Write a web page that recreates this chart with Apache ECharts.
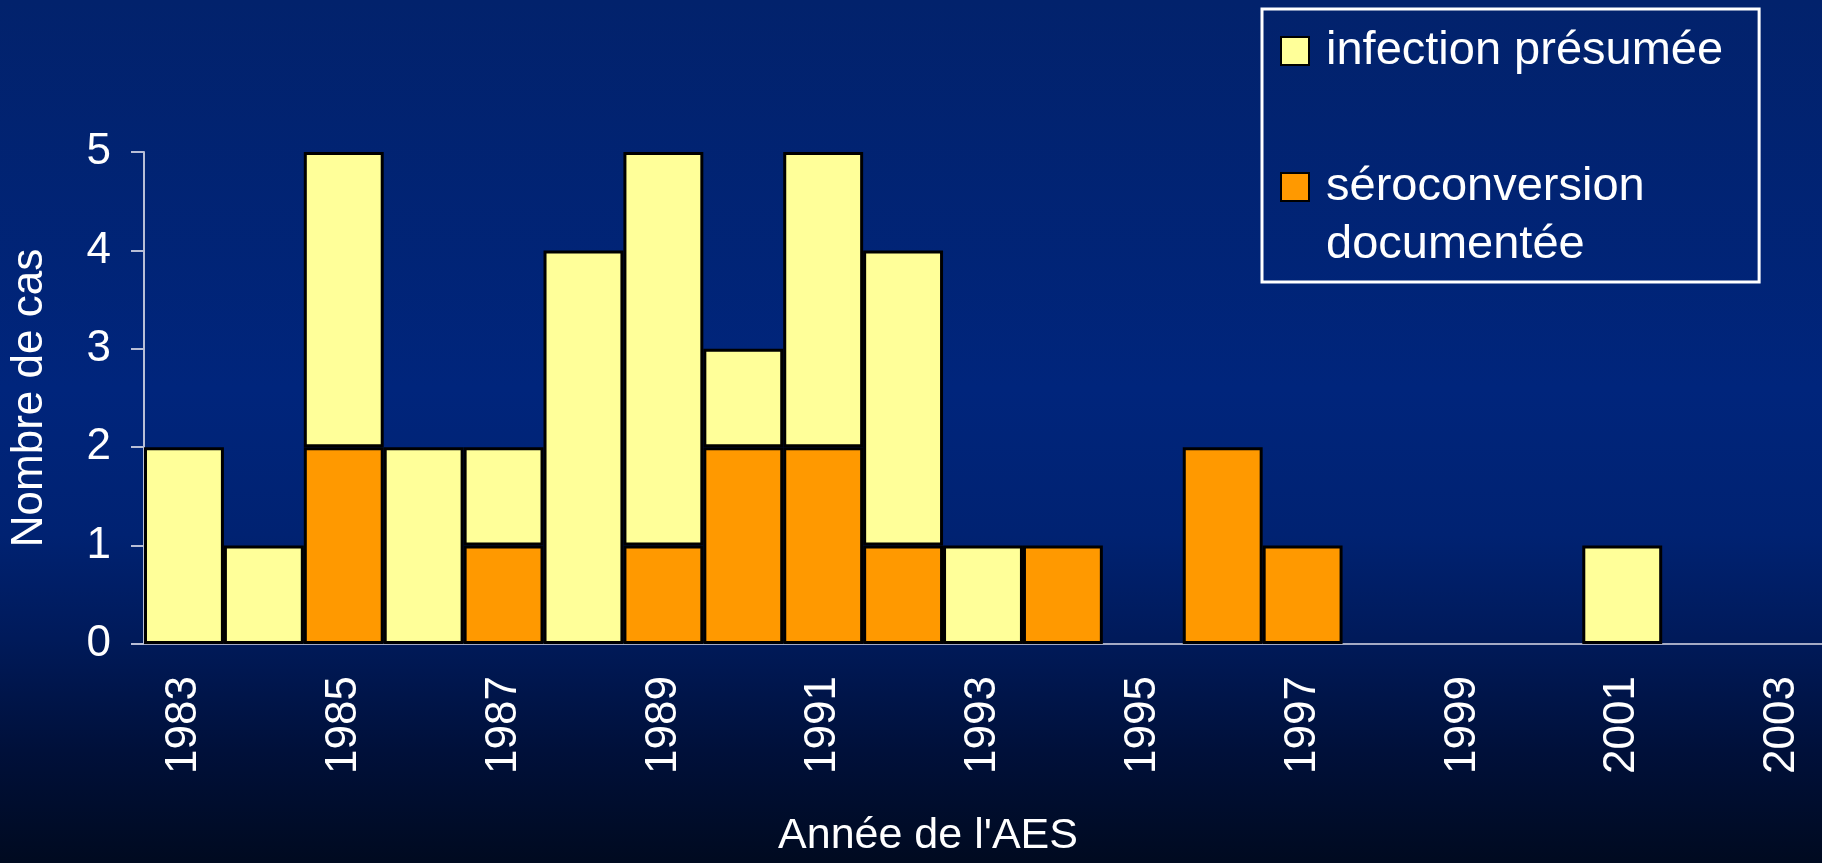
<!DOCTYPE html>
<html>
<head>
<meta charset="utf-8">
<style>
  html, body { margin: 0; padding: 0; }
  #chart { width: 1822px; height: 863px; }
</style>
<script src="https://cdn.jsdelivr.net/npm/echarts@6/dist/echarts.min.js"></script>
</head>
<body>
<div id="chart"></div>
<script>
// années 1983 -> 2003
var years = ['1983', '1984', '1985', '1986', '1987', '1988', '1989', '1990', '1991', '1992', '1993',
  '1994', '1995', '1996', '1997', '1998', '1999', '2000', '2001', '2002', '2003']
var seroconversion = [0, 0, 2, 0, 1, 0, 1, 2, 2, 1, 0, 1, 0, 2, 1, 0, 0, 0, 0, 0, 0]
var infection = [2, 1, 3, 2, 1, 4, 4, 1, 3, 3, 1, 0, 0, 0, 0, 0, 0, 0, 1, 0, 0]
var yTicks = [0, 1, 2, 3, 4, 5]

var font = 'Liberation Sans, Arial, sans-serif'

// pas de barre pour les zéros
function noZero(arr) {
  return arr.map(function (v) { return v === 0 ? '-' : v })
}

var chart = echarts.init(document.getElementById('chart'))

chart.setOption({
  backgroundColor: {
    type: 'linear', x: 0, y: 0, x2: 0, y2: 1,
    colorStops: [
      { offset: 0, color: '#02226c' },
      { offset: 0.45, color: '#00257c' },
      { offset: 0.62, color: '#002272' },
      { offset: 0.74, color: '#001a5a' },
      { offset: 0.87, color: '#00103a' },
      { offset: 1, color: '#000a20' }
    ]
  },
  animation: false,
  grid: {
    left: 141,
    right: -5,
    top: 152,
    bottom: 211
  },
  legend: {
    orient: 'vertical',
    left: 1262,
    top: 9,
    padding: [13, 36, 8, 18],
    borderColor: '#ffffff',
    borderWidth: 3,
    itemGap: 20,
    itemWidth: 28,
    itemHeight: 28,
    icon: 'rect',
    textStyle: {
      color: '#ffffff',
      fontFamily: font,
      fontSize: 47,
      lineHeight: 58,
      padding: [0, 0, 0, 12]
    },
    data: ['infection présumée', 'séroconversion documentée'],
    formatter: function (name) {
      // ligne vide en tête pour aligner la 1re ligne sur le carré
      return name === 'séroconversion documentée' ? '\nséroconversion\ndocumentée' : name
    }
  },
  xAxis: {
    type: 'category',
    data: years,
    name: "Année de l'AES",
    nameLocation: 'middle',
    nameGap: 171,
    nameTextStyle: {
      color: '#ffffff',
      fontFamily: font,
      fontSize: 43,
      padding: [0, 110, 0, 0]
    },
    axisLine: { lineStyle: { color: '#a4aac4', width: 2 } },
    axisTick: { show: false },
    axisLabel: {
      interval: 1,
      rotate: 90,
      margin: 32,
      color: '#ffffff',
      fontFamily: font,
      fontSize: 44
    }
  },
  yAxis: {
    type: 'value',
    min: yTicks[0],
    max: yTicks[yTicks.length - 1],
    interval: 1,
    name: 'Nombre de cas',
    nameLocation: 'middle',
    nameGap: 92,
    nameTextStyle: {
      color: '#ffffff',
      fontFamily: font,
      fontSize: 44
    },
    axisLine: { show: true, lineStyle: { color: '#b8bed6', width: 2 } },
    axisTick: { show: true, length: 13, lineStyle: { color: '#b8bed6', width: 2 } },
    splitLine: { show: false },
    axisLabel: {
      margin: 33,
      color: '#ffffff',
      fontFamily: font,
      fontSize: 44
    }
  },
  series: [
    {
      name: 'séroconversion documentée',
      type: 'bar',
      stack: 'cas',
      barCategoryGap: '0%',
      itemStyle: { color: '#ff9900', borderColor: '#000000', borderWidth: 3 },
      data: noZero(seroconversion)
    },
    {
      name: 'infection présumée',
      type: 'bar',
      stack: 'cas',
      barCategoryGap: '0%',
      itemStyle: { color: '#ffff99', borderColor: '#000000', borderWidth: 3 },
      data: noZero(infection)
    }
  ]
})
</script>
</body>
</html>
